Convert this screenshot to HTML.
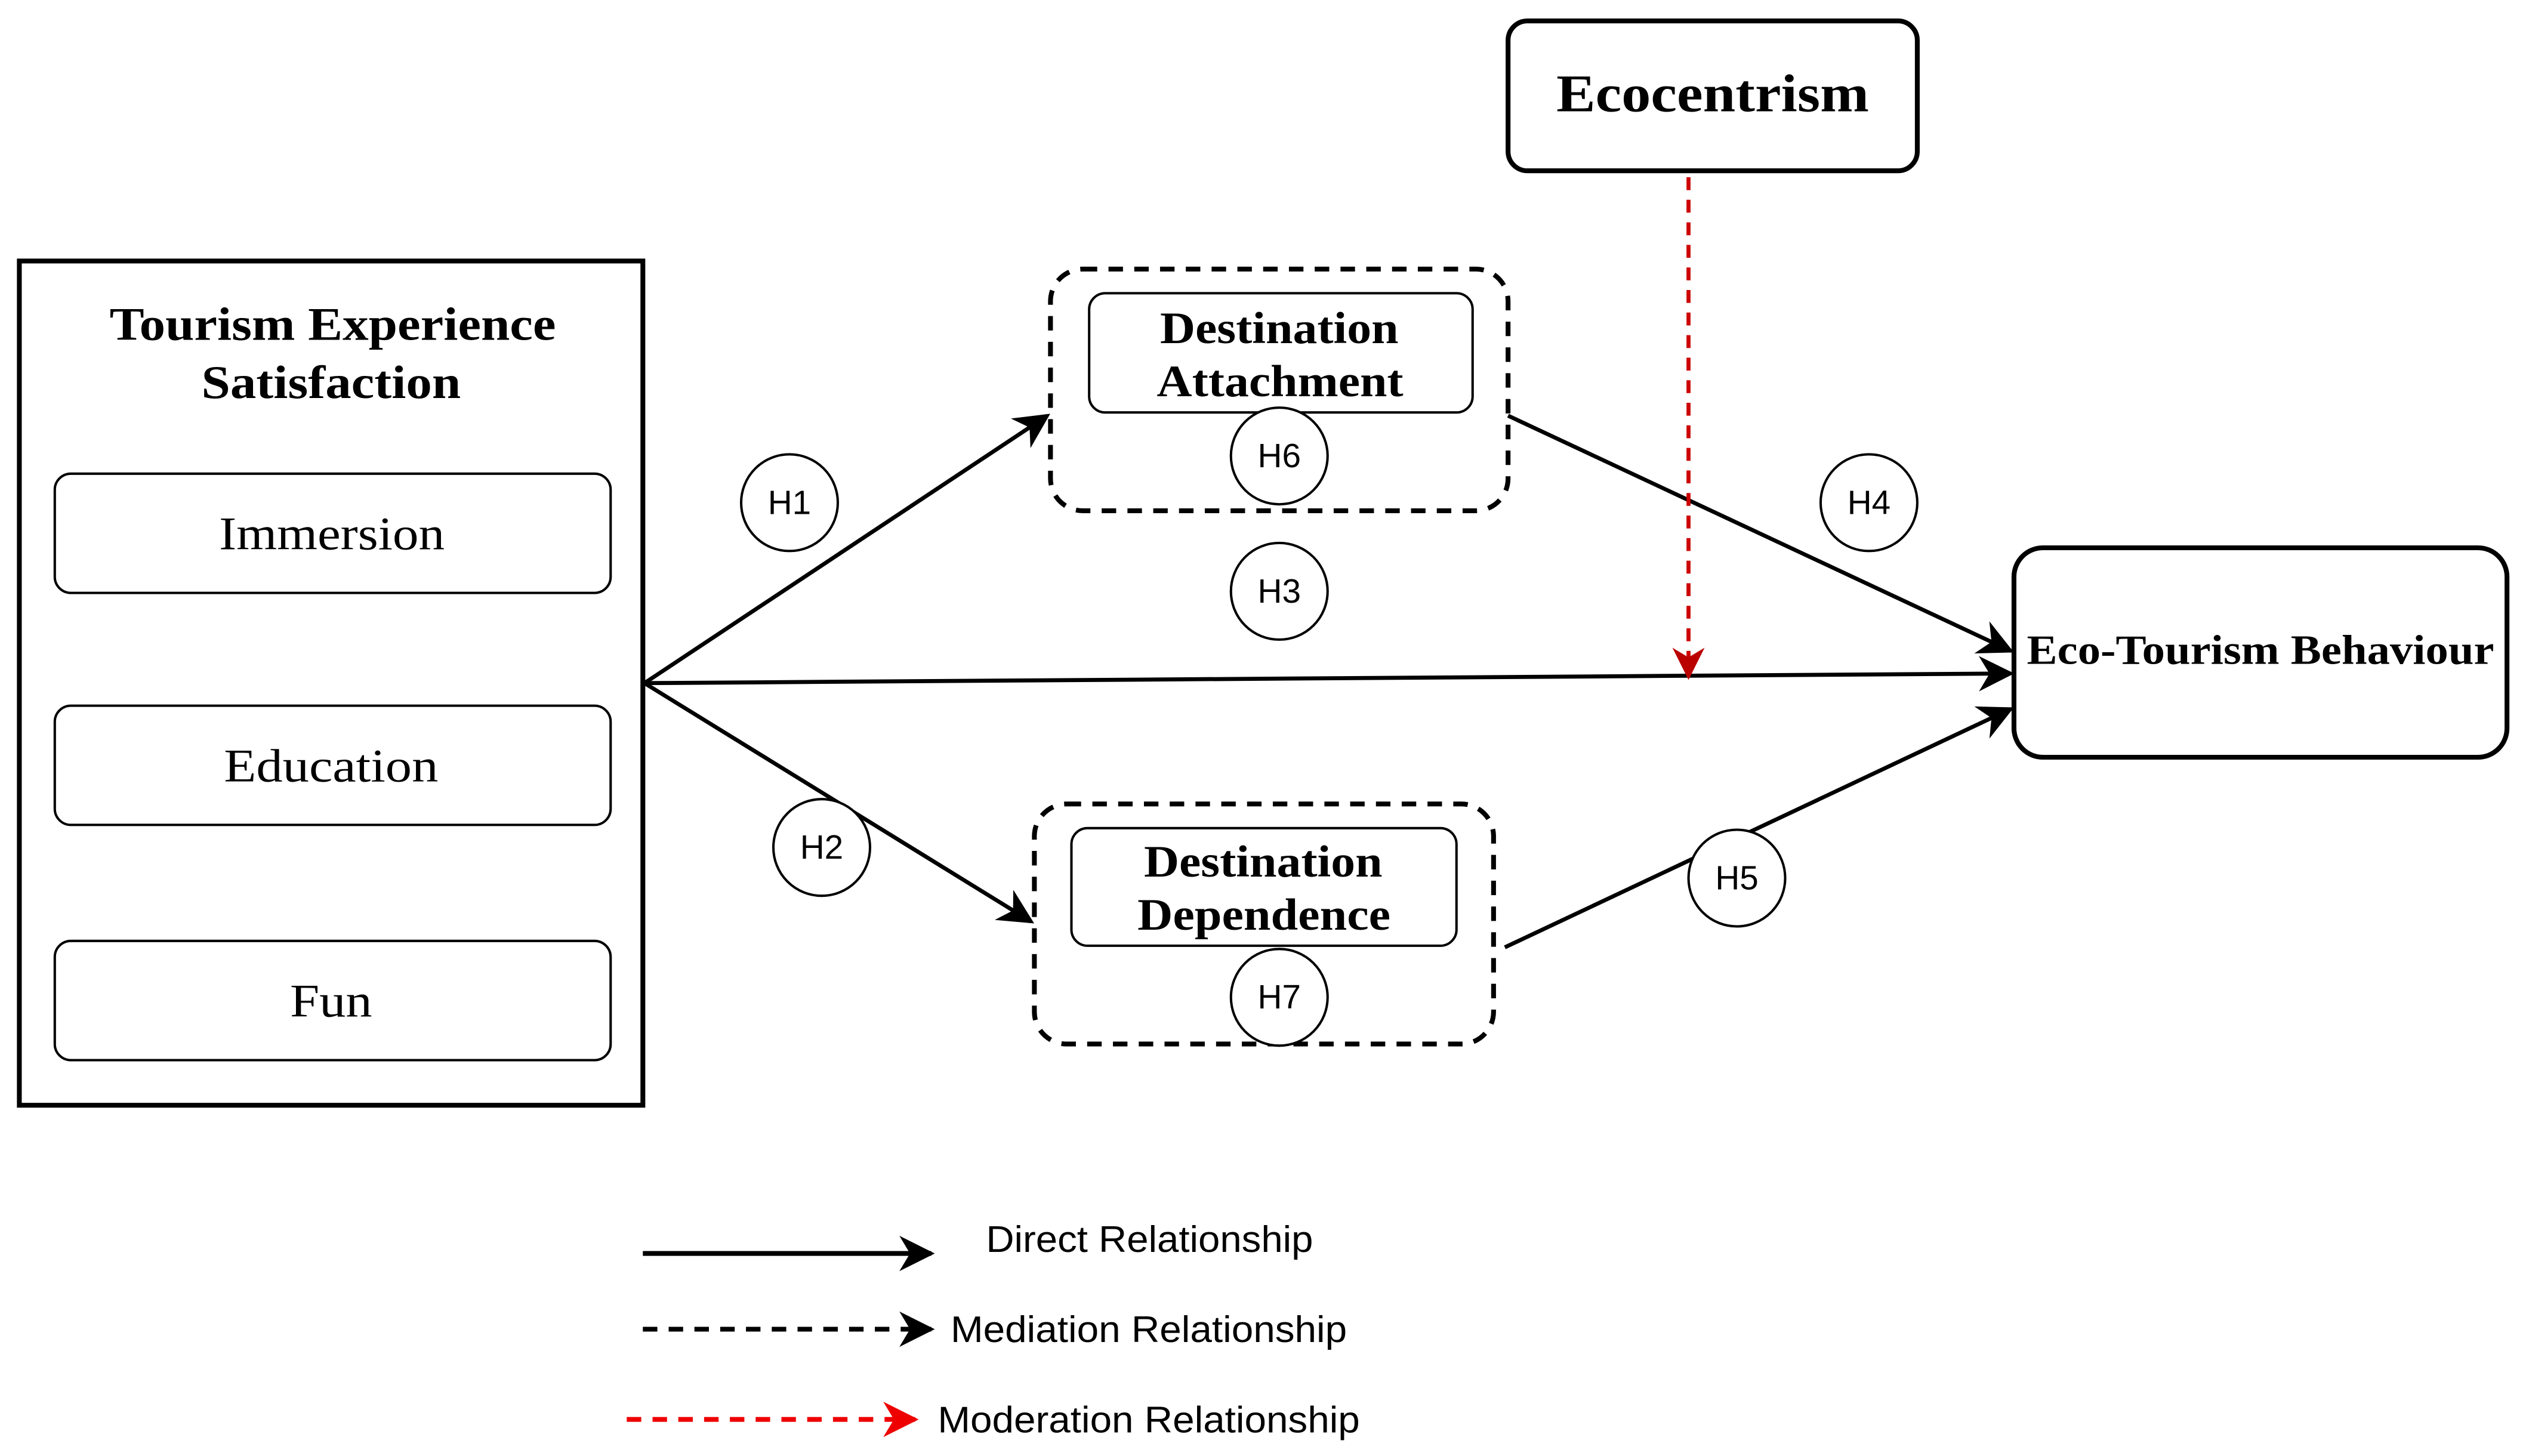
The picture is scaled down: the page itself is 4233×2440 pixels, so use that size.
<!DOCTYPE html>
<html><head><style>
html,body{margin:0;padding:0;background:#fff;}
svg{display:block;}
.s{font-family:"Liberation Serif",serif;}
.a{font-family:"Liberation Sans",sans-serif;}
</style></head><body>
<svg width="4233" height="2440" viewBox="0 0 1567.8 903.7" preserveAspectRatio="none" xmlns="http://www.w3.org/2000/svg">
<defs>
<marker id="arr" viewBox="0 0 10 10" refX="9" refY="5" markerWidth="22" markerHeight="22" orient="auto" markerUnits="userSpaceOnUse">
<path d="M0,0 L10,5 L0,10 L3,5 Z" fill="#000"/>
</marker>
<marker id="arred" viewBox="0 0 10 10" refX="9" refY="5" markerWidth="22" markerHeight="22" orient="auto" markerUnits="userSpaceOnUse">
<path d="M0,0 L10,5 L0,10 L3,5 Z" fill="#e00"/>
</marker>
<marker id="arred2" viewBox="0 0 10 10" refX="9" refY="5" markerWidth="20" markerHeight="20" orient="auto" markerUnits="userSpaceOnUse">
<path d="M0,0 L10,5 L0,10 L3,5 Z" fill="#b00"/>
</marker>
</defs>
<g fill="none" stroke="#000">
<rect x="12" y="162" width="387" height="524" stroke-width="3"/>
<rect x="34" y="294" width="345" height="74" rx="10" stroke-width="1.5"/>
<rect x="34" y="438" width="345" height="74" rx="10" stroke-width="1.5"/>
<rect x="34" y="584" width="345" height="74" rx="10" stroke-width="1.5"/>
<rect x="936" y="13" width="254" height="93" rx="12" stroke-width="3"/>
<rect x="652" y="167" width="284" height="150" rx="20" stroke-width="3" stroke-dasharray="9,7"/>
<rect x="676" y="182" width="238" height="74" rx="10" stroke-width="1.5"/>
<rect x="642" y="499" width="285" height="149" rx="20" stroke-width="3" stroke-dasharray="9,7"/>
<rect x="665" y="514" width="239" height="73" rx="10" stroke-width="1.5"/>
<rect x="1250" y="340" width="306" height="130" rx="18" stroke-width="3"/>
<g stroke-width="2.5">
<line x1="400" y1="424" x2="650" y2="258" marker-end="url(#arr)"/>
<line x1="400" y1="424" x2="1248" y2="418" marker-end="url(#arr)"/>
<line x1="400" y1="424" x2="640" y2="572" marker-end="url(#arr)"/>
<line x1="936" y1="258" x2="1248" y2="404" marker-end="url(#arr)"/>
<line x1="934" y1="588" x2="1248" y2="440" marker-end="url(#arr)"/>
</g>
<line x1="1048" y1="110" x2="1048" y2="420" stroke="#c00" stroke-width="2.5" stroke-dasharray="8,6" marker-end="url(#arred2)"/>
<g fill="#fff" stroke-width="1.5">
<circle cx="794" cy="283" r="30"/>
<circle cx="794" cy="367" r="30"/>
<circle cx="490" cy="312" r="30"/>
<circle cx="1160" cy="312" r="30"/>
<circle cx="510" cy="526" r="30"/>
<circle cx="1078" cy="545" r="30"/>
<circle cx="794" cy="619" r="30"/>
</g>
<line x1="399" y1="778" x2="578" y2="778" stroke-width="3" marker-end="url(#arr)"/>
<line x1="399" y1="825" x2="578" y2="825" stroke-width="3" stroke-dasharray="9,7" marker-end="url(#arr)"/>
<line x1="389" y1="881" x2="568" y2="881" stroke="#e00" stroke-width="3" stroke-dasharray="9,7" marker-end="url(#arred)"/>
</g>
<g class="s" fill="#000">
<text x="68" y="211" font-size="29" font-weight="bold" textLength="277" lengthAdjust="spacingAndGlyphs">Tourism Experience</text>
<text x="125" y="247" font-size="29" font-weight="bold" textLength="161" lengthAdjust="spacingAndGlyphs">Satisfaction</text>
<text x="136" y="341" font-size="29" textLength="140" lengthAdjust="spacingAndGlyphs">Immersion</text>
<text x="139" y="485" font-size="29" textLength="133" lengthAdjust="spacingAndGlyphs">Education</text>
<text x="180" y="631" font-size="29" textLength="51" lengthAdjust="spacingAndGlyphs">Fun</text>
<text x="966" y="69" font-size="33" font-weight="bold" textLength="194" lengthAdjust="spacingAndGlyphs">Ecocentrism</text>
<text x="720" y="213" font-size="28" font-weight="bold" textLength="148" lengthAdjust="spacingAndGlyphs">Destination</text>
<text x="718" y="246" font-size="28" font-weight="bold" textLength="153" lengthAdjust="spacingAndGlyphs">Attachment</text>
<text x="710" y="544" font-size="28" font-weight="bold" textLength="148" lengthAdjust="spacingAndGlyphs">Destination</text>
<text x="706" y="577" font-size="28" font-weight="bold" textLength="157" lengthAdjust="spacingAndGlyphs">Dependence</text>
<text x="1258" y="412" font-size="26" font-weight="bold" textLength="290" lengthAdjust="spacingAndGlyphs">Eco-Tourism Behaviour</text>
</g>
<g class="a" text-anchor="middle" fill="#000" font-size="21">
<text x="794" y="290">H6</text>
<text x="794" y="374">H3</text>
<text x="490" y="319">H1</text>
<text x="1160" y="319">H4</text>
<text x="510" y="533">H2</text>
<text x="1078" y="552">H5</text>
<text x="794" y="626">H7</text>
</g>
<g class="a" fill="#000" font-size="23">
<text x="612" y="777" textLength="203" lengthAdjust="spacingAndGlyphs">Direct Relationship</text>
<text x="590" y="833" textLength="246" lengthAdjust="spacingAndGlyphs">Mediation Relationship</text>
<text x="582" y="889" textLength="262" lengthAdjust="spacingAndGlyphs">Moderation Relationship</text>
</g>
</svg>
</body></html>
